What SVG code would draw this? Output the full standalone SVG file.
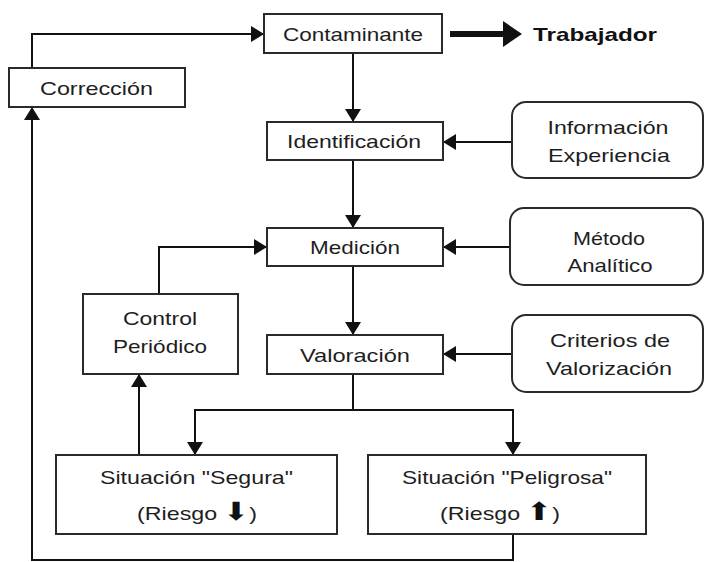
<svg xmlns="http://www.w3.org/2000/svg" width="704" height="562" viewBox="0 0 704 562">
<style>
.box{fill:#fff;stroke:#2a2a2a;stroke-width:2}
.t{font-family:"Liberation Sans",Arial,sans-serif;font-size:19px;fill:#1e1e1e;text-anchor:middle}
.b{font-weight:bold;text-anchor:start;fill:#111}
.c{fill:none;stroke:#111;stroke-width:2}
.ar{font-family:"DejaVu Sans",sans-serif;font-size:25px;fill:#111}
</style>
<defs>
<marker id="ah" markerUnits="userSpaceOnUse" markerWidth="14" markerHeight="16" refX="13" refY="8" orient="auto" overflow="visible">
<path d="M0,0 L13,8 L0,16 Z" fill="#111"/>
</marker>
</defs>
<rect width="704" height="562" fill="#fff"/>
<g id="connectors">
<polyline class="c" points="32,68 32,34 264,34" marker-end="url(#ah)"/>
<line class="c" x1="353" y1="53" x2="353" y2="122" marker-end="url(#ah)"/>
<line class="c" x1="353" y1="160" x2="353" y2="228" marker-end="url(#ah)"/>
<line class="c" x1="512" y1="142" x2="443" y2="142" marker-end="url(#ah)"/>
<line class="c" x1="510" y1="247" x2="443" y2="247" marker-end="url(#ah)"/>
<line class="c" x1="512" y1="354" x2="443" y2="354" marker-end="url(#ah)"/>
<line class="c" x1="353" y1="266" x2="353" y2="335" marker-end="url(#ah)"/>
<polyline class="c" points="353,374 353,410 195,410 195,455" marker-end="url(#ah)"/>
<polyline class="c" points="353,410 513,410 513,455" marker-end="url(#ah)"/>
<line class="c" x1="139" y1="455" x2="139" y2="374" marker-end="url(#ah)"/>
<polyline class="c" points="159,294 159,247 267,247" marker-end="url(#ah)"/>
<polyline class="c" points="513,534 513,560 32,560 32,107" marker-end="url(#ah)"/>
<line x1="450" y1="34" x2="505" y2="34" stroke="#111" stroke-width="6"/>
<path d="M503,21 L522,34 L503,47 Z" fill="#111"/>
</g>
<g id="contaminante">
<rect class="box" x="264" y="14" width="178" height="39"/>
<text class="t" x="353" y="40.5" textLength="140" lengthAdjust="spacingAndGlyphs">Contaminante</text>
</g>
<g id="trabajador">
<text class="t b" x="533" y="41" textLength="124" lengthAdjust="spacingAndGlyphs">Trabajador</text>
</g>
<g id="correccion">
<rect class="box" x="9" y="68" width="176" height="39"/>
<text class="t" x="96.5" y="94.5" textLength="113" lengthAdjust="spacingAndGlyphs">Corrección</text>
</g>
<g id="identificacion">
<rect class="box" x="267" y="122" width="176" height="38"/>
<text class="t" x="354" y="148" textLength="134" lengthAdjust="spacingAndGlyphs">Identificación</text>
</g>
<g id="informacion">
<rect class="box" x="512" y="102" width="191" height="76" rx="14"/>
<text class="t" x="608" y="134" textLength="121" lengthAdjust="spacingAndGlyphs">Información</text>
<text class="t" x="609" y="162" textLength="122" lengthAdjust="spacingAndGlyphs">Experiencia</text>
</g>
<g id="medicion">
<rect class="box" x="267" y="228" width="176" height="38"/>
<text class="t" x="355" y="254" textLength="90" lengthAdjust="spacingAndGlyphs">Medición</text>
</g>
<g id="metodo">
<rect class="box" x="510" y="208" width="193" height="77" rx="14"/>
<text class="t" x="609" y="245" textLength="72" lengthAdjust="spacingAndGlyphs">Método</text>
<text class="t" x="610" y="272" textLength="85" lengthAdjust="spacingAndGlyphs">Analítico</text>
</g>
<g id="control">
<rect class="box" x="83" y="294" width="155" height="80"/>
<text class="t" x="160" y="325" textLength="74" lengthAdjust="spacingAndGlyphs">Control</text>
<text class="t" x="160" y="353" textLength="94" lengthAdjust="spacingAndGlyphs">Periódico</text>
</g>
<g id="valoracion">
<rect class="box" x="267" y="335" width="176" height="39"/>
<text class="t" x="355" y="361.5" textLength="110" lengthAdjust="spacingAndGlyphs">Valoración</text>
</g>
<g id="criterios">
<rect class="box" x="512" y="315" width="191" height="77" rx="14"/>
<text class="t" x="610" y="347" textLength="120" lengthAdjust="spacingAndGlyphs">Criterios de</text>
<text class="t" x="609" y="375" textLength="126" lengthAdjust="spacingAndGlyphs">Valorización</text>
</g>
<g id="segura">
<rect class="box" x="56" y="455" width="281" height="79"/>
<text class="t" x="196.5" y="484" textLength="193" lengthAdjust="spacingAndGlyphs">Situación "Segura"</text>
<text class="t" x="197" y="520" textLength="120" lengthAdjust="spacingAndGlyphs">(Riesgo <tspan class="ar">⬇</tspan>)</text>
</g>
<g id="peligrosa">
<rect class="box" x="368" y="455" width="278" height="79"/>
<text class="t" x="507" y="484" textLength="210" lengthAdjust="spacingAndGlyphs">Situación "Peligrosa"</text>
<text class="t" x="500" y="520" textLength="120" lengthAdjust="spacingAndGlyphs">(Riesgo <tspan class="ar">⬆</tspan>)</text>
</g>
</svg>
